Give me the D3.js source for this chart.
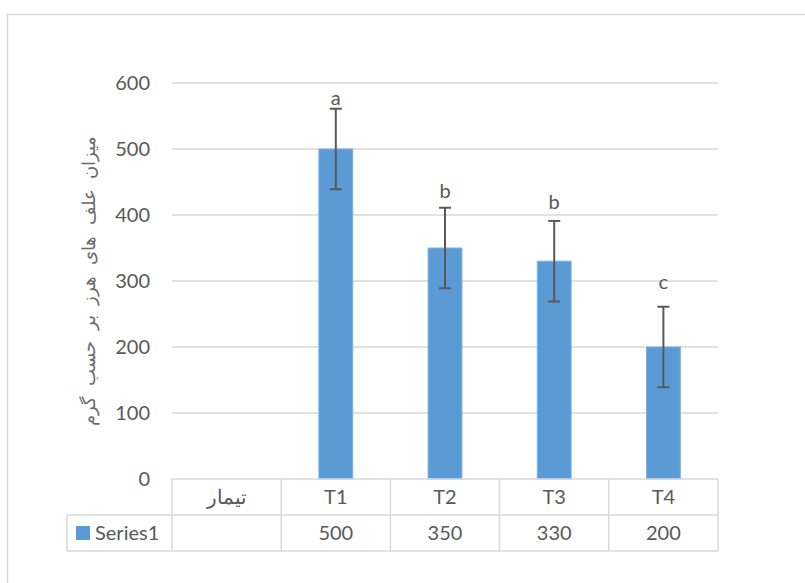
<!DOCTYPE html>
<html>
<head>
<meta charset="utf-8">
<script src="https://cdn.jsdelivr.net/npm/d3@7"></script>
<style>
  body { margin: 0; background: #fff; }
  text { font-family: Lato, "Open Sans", sans-serif; fill: #595959; }
</style>
</head>
<body>
<div id="chart"></div>
<script>
// chart data
var categories = ["تیمار", "T1", "T2", "T3", "T4"];
var values = [null, 500, 350, 330, 200];
var errors = [null, 61, 61, 61, 61];
var letters = ["", "a", "b", "b", "c"];
var letterLevels = [null, 566, 426, 409, 288];
var yTicks = [0, 100, 200, 300, 400, 500, 600];
var seriesName = "Series1";
var yTitle = "میزان علف های هرز بر حسب گرم";

var svgWidth = 805;
var svgHeight = 583;
var fontSize = "20px";

var chartMargin = { top: 83, right: 87, bottom: 104, left: 172 };
var chartWidth = svgWidth - chartMargin.left - chartMargin.right;
var chartHeight = svgHeight - chartMargin.top - chartMargin.bottom;

var svg = d3.select("#chart")
  .append("svg")
  .attr("width", svgWidth)
  .attr("height", svgHeight);

// outer chart frame
svg.append("rect")
  .attr("x", 7.5)
  .attr("y", 14.5)
  .attr("width", 820)
  .attr("height", 600)
  .attr("fill", "none")
  .attr("stroke", "#d9d9d9")
  .attr("stroke-width", 1.5);

var chartGroup = svg.append("g")
  .attr("transform", `translate(${chartMargin.left}, ${chartMargin.top})`);

var xScale = d3.scaleBand()
  .domain(categories)
  .range([0, chartWidth])
  .paddingInner(0.69)
  .paddingOuter(0.345);

var xBand = d3.scaleBand().domain(categories).range([0, chartWidth]);

var yScale = d3.scaleLinear()
  .domain([0, 600])
  .range([chartHeight, 0]);

// gridlines
chartGroup.append("g")
  .selectAll("line")
  .data(yTicks.filter(d => d > 0))
  .enter()
  .append("line")
  .attr("x1", 0)
  .attr("x2", chartWidth)
  .attr("y1", d => yScale(d))
  .attr("y2", d => yScale(d))
  .attr("stroke", "#d9d9d9")
  .attr("stroke-width", 1.5);

// y axis labels
var yAxis = d3.axisLeft(yScale).tickValues(yTicks).tickSize(0).tickPadding(22);
var yAxisG = chartGroup.append("g").call(yAxis);
yAxisG.select(".domain").remove();
yAxisG.selectAll("text")
  .style("font-size", fontSize)
  .style("fill", "#595959")
  .style("font-family", "Lato, 'Open Sans', sans-serif");

// bars
var barData = categories.map((c, i) => ({ cat: c, value: values[i], err: errors[i], letter: letters[i], level: letterLevels[i] }))
  .filter(d => d.value !== null);

chartGroup.selectAll(".bar")
  .data(barData)
  .enter()
  .append("rect")
  .attr("class", "bar")
  .attr("x", d => xScale(d.cat))
  .attr("y", d => yScale(d.value))
  .attr("width", xScale.bandwidth())
  .attr("height", d => chartHeight - yScale(d.value))
  .attr("fill", "#5b9bd5")
  .attr("stroke", "#7fb1df")
  .attr("stroke-width", 1);

// error bars
var errG = chartGroup.selectAll(".err")
  .data(barData)
  .enter()
  .append("g")
  .attr("class", "err")
  .attr("stroke", "#595959")
  .attr("stroke-width", 2);

errG.append("line")
  .attr("x1", d => xScale(d.cat) + xScale.bandwidth() / 2)
  .attr("x2", d => xScale(d.cat) + xScale.bandwidth() / 2)
  .attr("y1", d => yScale(d.value + d.err))
  .attr("y2", d => yScale(d.value - d.err));

errG.selectAll(".cap")
  .data(d => [d.value + d.err, d.value - d.err].map(v => ({ cat: d.cat, v: v })))
  .enter()
  .append("line")
  .attr("x1", d => xScale(d.cat) + xScale.bandwidth() / 2 - 6)
  .attr("x2", d => xScale(d.cat) + xScale.bandwidth() / 2 + 6)
  .attr("y1", d => yScale(d.v))
  .attr("y2", d => yScale(d.v));

// significance letters
chartGroup.selectAll(".letter")
  .data(barData)
  .enter()
  .append("text")
  .attr("class", "letter")
  .attr("x", d => xScale(d.cat) + xScale.bandwidth() / 2)
  .attr("y", d => yScale(d.level))
  .attr("text-anchor", "middle")
  .style("font-size", fontSize)
  .text(d => d.letter);

// data table
var rowH = 36;
var tableG = chartGroup.append("g").attr("transform", `translate(0, ${chartHeight})`);
var gridColor = "#d9d9d9";

// horizontal lines
tableG.append("line").attr("x1", 0).attr("x2", chartWidth).attr("y1", 0).attr("y2", 0)
  .attr("stroke", gridColor).attr("stroke-width", 1.5);
tableG.append("line").attr("x1", -105).attr("x2", chartWidth).attr("y1", rowH).attr("y2", rowH)
  .attr("stroke", gridColor).attr("stroke-width", 1.5);
tableG.append("line").attr("x1", -105).attr("x2", chartWidth).attr("y1", rowH * 2).attr("y2", rowH * 2)
  .attr("stroke", gridColor).attr("stroke-width", 1.5);
tableG.append("line").attr("x1", -105).attr("x2", -105).attr("y1", rowH).attr("y2", rowH * 2)
  .attr("stroke", gridColor).attr("stroke-width", 1.5);

// vertical lines
tableG.selectAll(".vline")
  .data(categories.concat(["end"]))
  .enter()
  .append("line")
  .attr("class", "vline")
  .attr("x1", (d, i) => i < categories.length ? xBand(d) : chartWidth)
  .attr("x2", (d, i) => i < categories.length ? xBand(d) : chartWidth)
  .attr("y1", 0)
  .attr("y2", rowH * 2)
  .attr("stroke", gridColor)
  .attr("stroke-width", 1.5);

// category labels
tableG.selectAll(".catLabel")
  .data(categories)
  .enter()
  .append("text")
  .attr("class", "catLabel")
  .attr("x", d => xBand(d) + xBand.bandwidth() / 2)
  .attr("y", rowH / 2 + 7)
  .attr("text-anchor", "middle")
  .style("font-size", fontSize)
  .text(d => d);

// value labels
tableG.selectAll(".valLabel")
  .data(categories.map((c, i) => ({ cat: c, value: values[i] })))
  .enter()
  .append("text")
  .attr("class", "valLabel")
  .attr("x", d => xBand(d.cat) + xBand.bandwidth() / 2)
  .attr("y", rowH * 1.5 + 7)
  .attr("text-anchor", "middle")
  .style("font-size", fontSize)
  .text(d => d.value === null ? "" : d.value);

// legend key in table
tableG.append("rect")
  .attr("x", -96)
  .attr("y", rowH * 1.5 - 7)
  .attr("width", 14)
  .attr("height", 14)
  .attr("fill", "#5b9bd5");
tableG.append("text")
  .attr("x", -77)
  .attr("y", rowH * 1.5 + 7)
  .style("font-size", fontSize)
  .text(seriesName);

// y axis title, centred on the plot area
svg.append("text")
  .attr("transform", "rotate(-90)")
  .attr("x", -(chartMargin.top + chartHeight / 2))
  .attr("y", 95)
  .attr("text-anchor", "middle")
  .style("font-size", "18px")
  .style("word-spacing", "6px")
  .style("fill", "#6a6a6a")
  .text(yTitle);
</script>
</body>
</html>
